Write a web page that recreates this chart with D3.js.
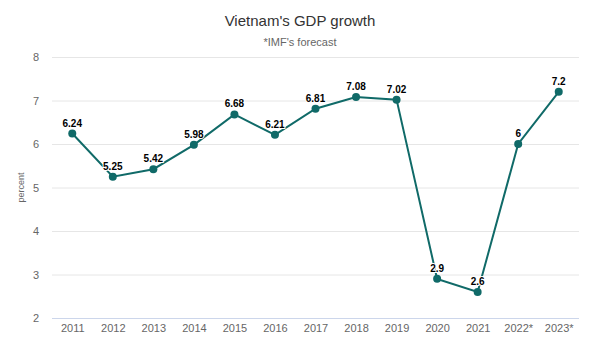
<!DOCTYPE html>
<html>
<head>
<meta charset="utf-8">
<script src="https://cdn.jsdelivr.net/npm/d3@7"></script>
<style>
body { margin: 0; background: #fff; }
svg { font-family: "Liberation Sans", Arial, sans-serif; display: block; }
</style>
</head>
<body>
<script>
const years = ['2011', '2012', '2013', '2014', '2015', '2016', '2017', '2018', '2019', '2020', '2021', '2022*', '2023*']
const growth = [6.24, 5.25, 5.42, 5.98, 6.68, 6.21, 6.81, 7.08, 7.02, 2.9, 2.6, 6, 7.2]
const yTicks = [2, 3, 4, 5, 6, 7, 8]

function drawChart() {
    var width = 600, height = 345
    var svg = d3.select('body')
        .append('svg')
        .attr('width', width)
        .attr('height', height)

    var x = d3.scalePoint()
        .domain(years)
        .range([52, 579])
        .padding(0.5)

    var y = d3.scaleLinear()
        .domain([2, 8])
        .range([318, 57])

    // title
    svg.append('text')
        .text("Vietnam's GDP growth")
        .attr('x', 300)
        .attr('y', 26)
        .attr('text-anchor', 'middle')
        .style('font-size', '15px')
        .style('fill', '#333')

    svg.append('text')
        .text("*IMF's forecast")
        .attr('x', 300)
        .attr('y', 46)
        .attr('text-anchor', 'middle')
        .style('font-size', '11px')
        .style('fill', '#666')

    // gridlines
    svg.append('g')
        .selectAll('line')
        .data(yTicks)
        .enter()
        .append('line')
        .attr('x1', 52)
        .attr('x2', 579)
        .attr('y1', function(d) { return y(d) + 0.5 })
        .attr('y2', function(d) { return y(d) + 0.5 })
        .attr('stroke', function(d) { return d === 2 ? '#ccd6eb' : '#e6e6e6' })
        .attr('stroke-width', 1)

    // y labels
    var yAxis = d3.axisLeft(y).tickValues(yTicks).tickFormat(d3.format('d')).tickSize(0).tickPadding(0)
    var gy = svg.append('g')
        .attr('transform', 'translate(39,0)')
        .call(yAxis)
    gy.select('.domain').remove()
    gy.selectAll('text')
        .style('font-size', '11px')
        .style('fill', '#666')
        .style('font-family', '"Liberation Sans", Arial, sans-serif')

    // x labels
    var xAxis = d3.axisBottom(x).tickSize(0).tickPadding(0)
    var gx = svg.append('g')
        .attr('transform', 'translate(0,324)')
        .call(xAxis)
    gx.select('.domain').remove()
    gx.selectAll('text')
        .style('font-size', '11px')
        .style('fill', '#666')
        .style('font-family', '"Liberation Sans", Arial, sans-serif')

    svg.append('text')
        .text('percent')
        .attr('transform', 'translate(24,' + (y(5)) + ') rotate(-90)')
        .attr('text-anchor', 'middle')
        .style('font-size', '9px')
        .style('fill', '#666')

    var line = d3.line()
        .x(function(d, i) { return x(years[i]) })
        .y(function(d) { return y(d) })

    svg.append('path')
        .datum(growth)
        .attr('d', line)
        .attr('fill', 'none')
        .attr('stroke', '#106a68')
        .attr('stroke-width', 2)

    svg.selectAll('.dot')
        .data(growth)
        .enter()
        .append('circle')
        .attr('cx', function(d, i) { return x(years[i]) })
        .attr('cy', function(d) { return y(d) })
        .attr('r', 4)
        .attr('fill', '#106a68')

    svg.selectAll('.lbl')
        .data(growth)
        .enter()
        .append('text')
        .text(function(d) { return d })
        .attr('x', function(d, i) { return x(years[i]) })
        .attr('y', function(d) { return y(d) - 7 })
        .attr('text-anchor', 'middle')
        .style('font-size', '10px')
        .style('font-weight', 'bold')
        .style('fill', '#000')
        .style('stroke', '#fff')
        .style('stroke-width', 2)
        .style('paint-order', 'stroke')
}

drawChart()
</script>
</body>
</html>
